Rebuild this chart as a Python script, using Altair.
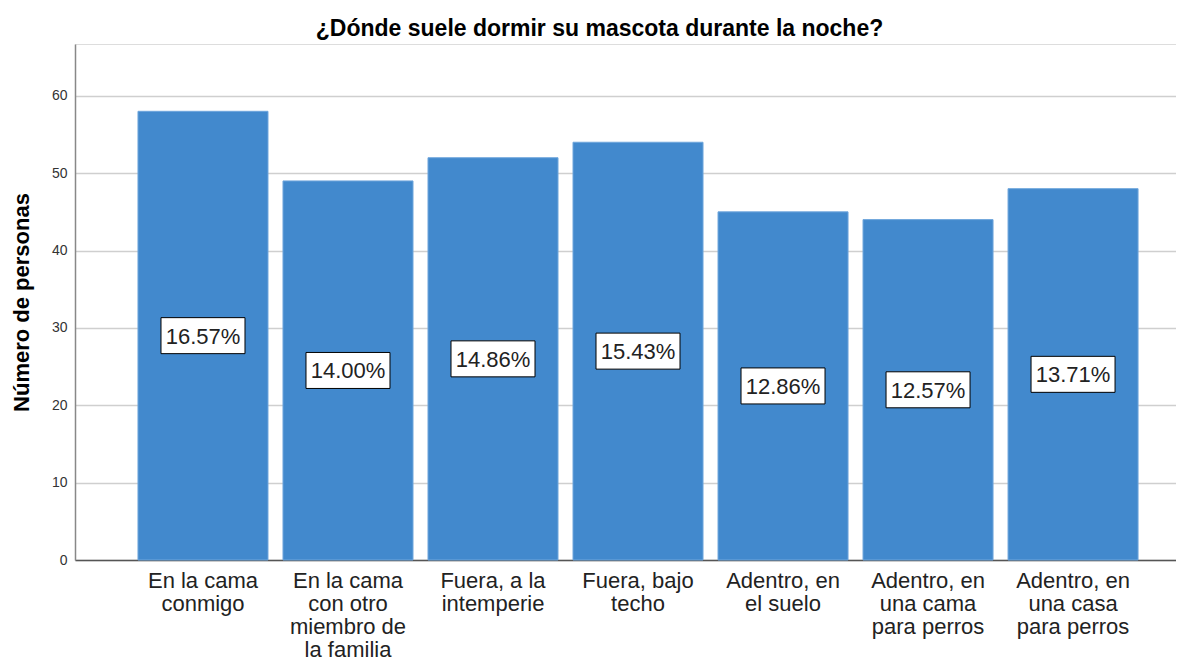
import altair as alt
import pandas as pd

categories = [
    "En la cama\nconmigo",
    "En la cama\ncon otro\nmiembro de\nla familia",
    "Fuera, a la\nintemperie",
    "Fuera, bajo\ntecho",
    "Adentro, en\nel suelo",
    "Adentro, en\nuna cama\npara perros",
    "Adentro, en\nuna casa\npara perros",
]
counts = [58, 49, 52, 54, 45, 44, 48]
percent_labels = ["16.57%", "14.00%", "14.86%", "15.43%", "12.86%", "12.57%", "13.71%"]

df = pd.DataFrame({"cat": categories, "n": counts, "pct": percent_labels})

FONT = "Liberation Sans"

x_enc = alt.X(
    "cat:N",
    sort=categories,
    scale=alt.Scale(paddingInner=0.1034, paddingOuter=0.348, align=0.624),
    axis=alt.Axis(
        title=None,
        labelAngle=0,
        labelExpr="split(datum.label, '\\n')",
        labelFont=FONT,
        labelFontSize=22,
        labelLineHeight=23,
        labelColor="#222222",
        labelPadding=10,
        labelLimit=0,
        ticks=False,
        domainColor="#555555",
        domainWidth=1.5,
        grid=False,
    ),
)

y_scale = alt.Scale(domain=[0, 66.7], nice=False, zero=True)

bars = alt.Chart(df).mark_bar(color="#4289CD", stroke="#6FA6DC", strokeWidth=1).encode(
    x=x_enc,
    y=alt.Y(
        "n:Q",
        scale=y_scale,
        axis=alt.Axis(
            values=[0, 10, 20, 30, 40, 50, 60],
            title="Número de personas",
            titleFont=FONT,
            titleFontSize=22,
            titleFontWeight="bold",
            titleColor="#000000",
            titlePadding=18,
            labelFont=FONT,
            labelFontSize=14,
            labelColor="#333333",
            labelPadding=8,
            ticks=False,
            domainColor="#888888",
            domainWidth=1.5,
            gridColor="#CFCFCF",
            gridWidth=1.5,
        ),
    ),
)

base = alt.Chart(df).transform_calculate(mid="datum.n / 2")

boxes = base.mark_point(
    shape="M-1,-0.4286H1V0.4286H-1Z",
    size=7056,
    filled=True,
    fill="white",
    stroke="black",
    strokeWidth=1,
    opacity=1,
).encode(x=alt.X("cat:N", sort=categories), y=alt.Y("mid:Q", scale=y_scale))

texts = base.mark_text(
    font=FONT, fontSize=22, color="#222222", baseline="middle", dy=1
).encode(x=alt.X("cat:N", sort=categories), y=alt.Y("mid:Q", scale=y_scale), text="pct:N")

chart = (
    alt.layer(bars, boxes, texts)
    .properties(
        width=1101,
        height=516,
        autosize=alt.AutoSizeParams(type="none"),
        padding={"left": 67, "top": 36, "right": 0, "bottom": 100},
        title=alt.TitleParams(
            "¿Dónde suele dormir su mascota durante la noche?",
            font=FONT,
            fontSize=23,
            fontWeight="bold",
            color="#000000",
            anchor="middle",
            frame="group",
            dx=-26,
            offset=3,
        ),
    )
    .configure_view(stroke=None)
    .configure(background="white")
)

chart.save("out.html", embed_options={"renderer": "svg", "actions": False})
